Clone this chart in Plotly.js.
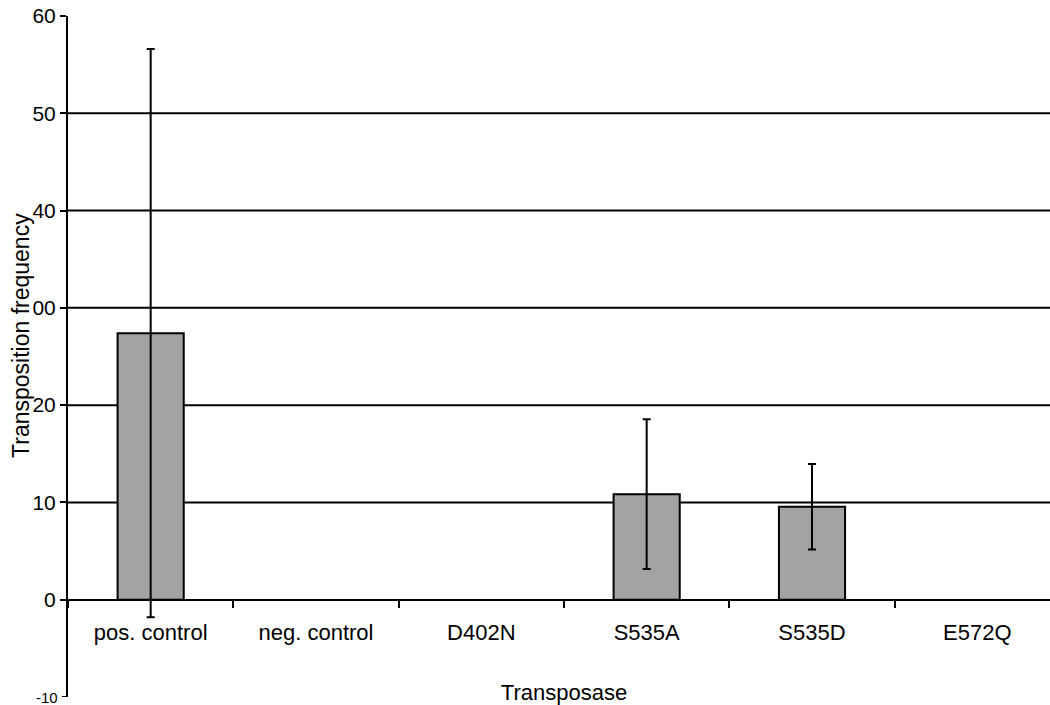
<!DOCTYPE html>
<html>
<head>
<meta charset="utf-8">
<script src="https://cdn.plot.ly/plotly-3.0.1.min.js"></script>
<style>
  html, body { margin: 0; padding: 0; overflow: hidden; background: #fff; }
  #chart { width: 1060px; height: 705px; }
</style>
</head>
<body>
<div id="chart"></div>
<script>
// ---- data ----
const categories = ["pos. control", "neg. control", "D402N", "S535A", "S535D", "E572Q"];
const frequency = [27.4, 0, 0, 10.85, 9.55, 0];
const errors = [29.2, 0, 0, 7.7, 4.4, 0];
const yTickVals = [0, 10, 20, 30, 40, 50, 60];
const yTickText = ["0", "10", "20", "00", "40", "50", "60"];
const yBottomVal = -10;
const yBottomText = "-10";
const gridVals = [10, 20, 30, 40, 50];
const xTitle = "Transposase";
const yTitle = "Transposition frequency";

const font = "Liberation Sans, Arial, sans-serif";

const trace = {
  type: "bar",
  x: categories,
  y: frequency.map(v => (v === 0 ? null : v)),
  width: 0.4,
  marker: { color: "#a3a3a3", line: { color: "#000", width: 2 } },
  error_y: {
    type: "data",
    array: errors.map(e => (e > 0 ? e : null)),
    visible: true,
    color: "#000",
    thickness: 2,
    width: 4
  },
  hoverinfo: "skip"
};

const shapes = gridVals.map(v => ({
  type: "line", xref: "paper", yref: "y",
  x0: 0, x1: 1, y0: v, y1: v,
  line: { color: "#000", width: 2 },
  layer: "below"
}));
// tick mark for the bottom value
shapes.push({
  type: "line", xref: "paper", yref: "y",
  x0: -6 / 992, x1: 0, y0: yBottomVal, y1: yBottomVal,
  line: { color: "#000", width: 2 }
});

const yMin = -10, yMax = 60;

const layout = {
  width: 1060,
  height: 705,
  margin: { l: 68, r: 0, t: 16, b: 8 },
  paper_bgcolor: "#fff",
  plot_bgcolor: "#fff",
  showlegend: false,
  font: { family: font, color: "#000", size: 22 },
  xaxis: {
    type: "category",
    range: [-0.5, 5.5],
    anchor: "free",
    position: (0 - yMin) / (yMax - yMin),
    showline: true,
    linecolor: "#000",
    linewidth: 2,
    ticks: "outside",
    tickson: "boundaries",
    ticklen: 7,
    tickwidth: 2,
    tickcolor: "#000",
    ticklabelstandoff: 13,
    tickfont: { family: font, size: 22, color: "#000" },
    showgrid: false,
    zeroline: false,
    fixedrange: true,
    title: { text: xTitle, font: { family: font, size: 22, color: "#000" }, standoff: 46 }
  },
  yaxis: {
    range: [yMin, yMax],
    tickvals: yTickVals,
    ticktext: yTickText,
    showline: true,
    linecolor: "#000",
    linewidth: 2,
    ticks: "outside",
    ticklen: 6,
    tickwidth: 2,
    tickcolor: "#000",
    tickfont: { family: font, size: 21, color: "#000" },
    showgrid: false,
    zeroline: false,
    fixedrange: true
  },
  shapes: shapes,
  annotations: [{
    text: yTitle,
    xref: "paper", yref: "paper",
    x: -0.0474, y: 0.5316,
    xanchor: "center", yanchor: "middle",
    textangle: -90,
    showarrow: false,
    font: { family: font, size: 23, color: "#000" }
  }, {
    text: yBottomText,
    xref: "paper", yref: "y",
    x: -8 / 992, y: yBottomVal,
    xanchor: "right", yanchor: "middle",
    showarrow: false,
    font: { family: font, size: 15, color: "#000" }
  }]
};

Plotly.newPlot("chart", [trace], layout, { displayModeBar: false, staticPlot: true });
</script>
</body>
</html>
